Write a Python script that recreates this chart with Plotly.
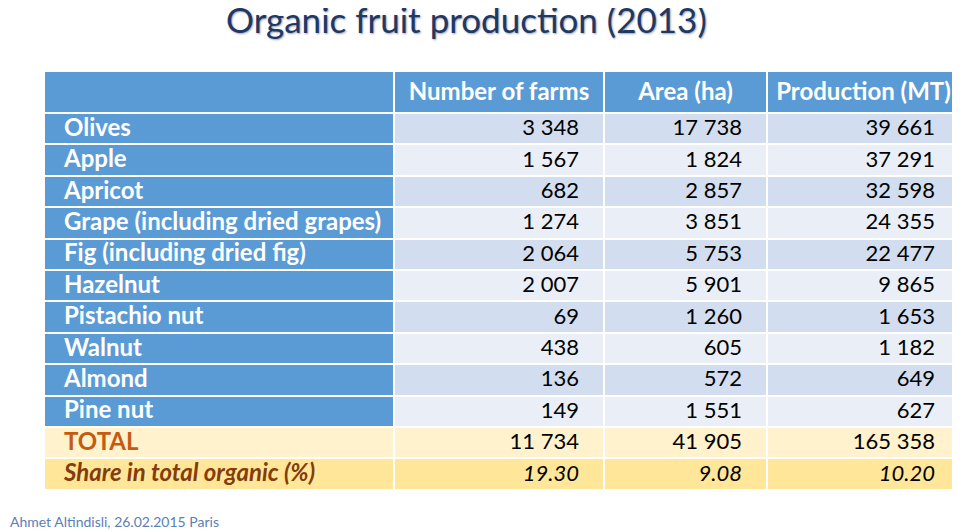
import numpy as np
import plotly.graph_objects as go

title = "Organic fruit production (2013)"
footer = "Ahmet Altindisli, 26.02.2015 Paris"

headers = ["Number of farms", "Area (ha)", "Production (MT)"]
fruits = ["Olives", "Apple", "Apricot", "Grape (including dried grapes)",
          "Fig (including dried fig)", "Hazelnut", "Pistachio nut", "Walnut",
          "Almond", "Pine nut"]
farms = [3348, 1567, 682, 1274, 2064, 2007, 69, 438, 136, 149]
area = [17738, 1824, 2857, 3851, 5753, 5901, 1260, 605, 572, 1551]
production = [39661, 37291, 32598, 24355, 22477, 9865, 1653, 1182, 649, 627]
totals = [11734, 41905, 165358]
shares = [19.30, 9.08, 10.20]

# page body has an 8px margin, so the figure is sized to fit inside it
W, H = 952, 524
col_widths = [350, 210, 163, 193]
header_h = 42
row_h = 31.4
left, top = 36, 63


def fmt(v):
    return f"{v:,}".replace(",", " ")


n = len(fruits)
n_rows = n + 2
x_edges = np.concatenate([[0], np.cumsum(col_widths)])
y_edges = np.concatenate([[0], header_h + row_h * np.arange(n_rows + 1)])
y_mid = (y_edges[:-1] + y_edges[1:]) / 2
table_w = x_edges[-1]
table_h = y_edges[-1]

# colour codes for cells
colors = ["#5B9BD5", "#D2DEEF", "#EAEFF7", "#FFF2CC", "#FFE699"]
z = [[0, 0, 0, 0]]
for i in range(n):
    s = 1 if i % 2 == 0 else 2
    z.append([0, s, s, s])
z.append([3, 3, 3, 3])
z.append([4, 4, 4, 4])

k = len(colors)
colorscale = []
for i, c in enumerate(colors):
    colorscale += [[i / k, c], [(i + 1) / k, c]]

fig = go.Figure()
fig.add_trace(go.Heatmap(
    z=z, x=x_edges, y=y_edges,
    colorscale=colorscale, zmin=-0.5, zmax=k - 0.5,
    showscale=False, xgap=2, ygap=2, hoverinfo="skip",
))

# label column
labels = [f"<b>{f}</b>" for f in fruits] + ["<b>TOTAL</b>", "<b><i>Share in total organic (%)</i></b>"]
label_colors = ["white"] * n + ["#C55A11", "#843C0C"]
fig.add_trace(go.Scatter(
    x=[20] * len(labels), y=y_mid[1:] + 1, mode="text", text=labels,
    textposition="middle right", hoverinfo="skip",
    textfont=dict(family="Lato", size=24, color=label_colors),
))

# header row
fig.add_trace(go.Scatter(
    x=(x_edges[1:-1] + x_edges[2:]) / 2, y=[y_mid[0] + 2] * 3, mode="text",
    text=[f"<b>{h}</b>" for h in headers], textposition="middle center",
    hoverinfo="skip", textfont=dict(family="Lato", size=24, color="white"),
))

# numeric columns
for j, series in enumerate([farms, area, production]):
    vals = [fmt(v) for v in series] + [fmt(totals[j]), f"<i>{shares[j]:.2f}</i>"]
    fig.add_trace(go.Scatter(
        x=[x_edges[j + 2] - 25] * len(vals), y=y_mid[1:] + 1, mode="text", text=vals,
        textposition="middle left", hoverinfo="skip",
        textfont=dict(family="Lato", size=22, color="black"),
    ))

fig.update_xaxes(range=[0, table_w], domain=[left / W, 1], visible=False, fixedrange=True)
fig.update_yaxes(range=[table_h, 0], domain=[1 - (top + table_h) / H, 1 - top / H],
                 visible=False, fixedrange=True)

fig.update_layout(
    width=W, height=H,
    paper_bgcolor="white", plot_bgcolor="white",
    margin=dict(l=0, r=0, t=0, b=0),
    showlegend=False,
    annotations=[
        dict(text=title, x=458 / W, y=1 - 11 / H, xref="paper", yref="paper",
             showarrow=False, xanchor="center", yanchor="middle",
             font=dict(family="Lato", size=35, color="#1F3864",
                       shadow="1px 1px 2px #9aa4b4")),
        dict(text=footer, x=0, y=1 - 513 / H, xref="paper", yref="paper",
             showarrow=False, xanchor="left", yanchor="middle",
             font=dict(family="Lato", size=14, color="#5B80B5")),
    ],
)

fig.write_html("out.html")
